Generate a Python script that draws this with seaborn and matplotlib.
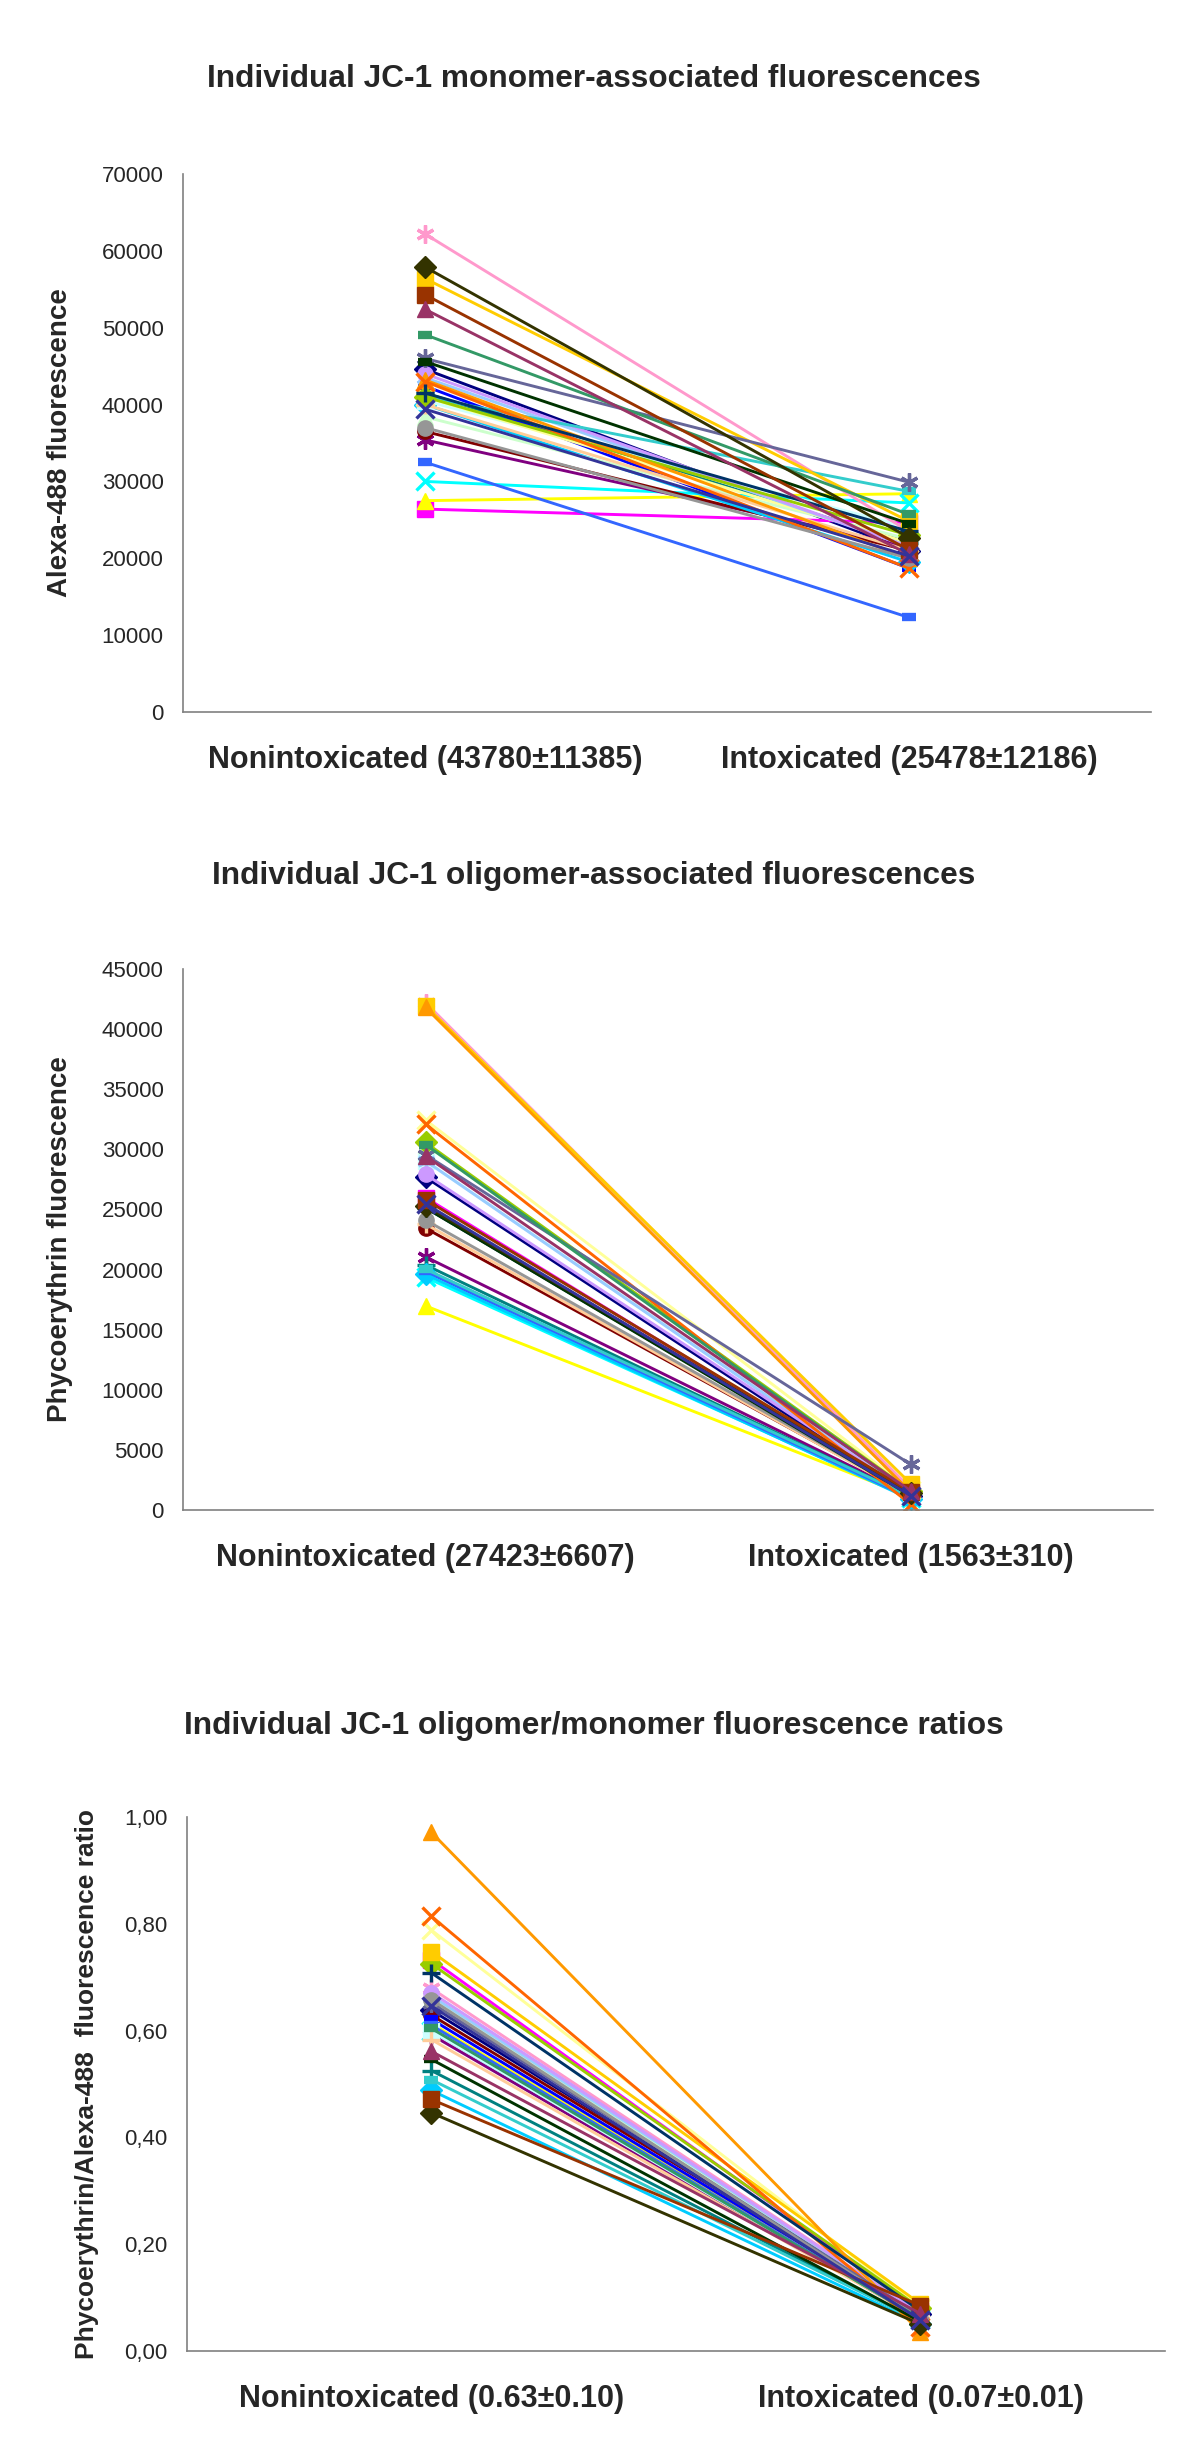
import matplotlib
matplotlib.use("Agg")
import matplotlib.pyplot as plt
import seaborn as sns

sns.set_style("white")
plt.rcParams['font.family'] = ['Liberation Sans', 'DejaVu Sans']

NARROW = ['Liberation Sans Narrow', 'Liberation Sans', 'DejaVu Sans']

## Series styles (Excel-like palette / marker cycle)
colors = ['#000080', '#FF00FF', '#FFFF00', '#00FFFF', '#800080', '#800000', '#008080', '#0000FF',
          '#00CCFF', '#CCFFFF', '#CCFFCC', '#FFFF99', '#99CCFF', '#FF99CC', '#CC99FF', '#FFCC99',
          '#3366FF', '#33CCCC', '#99CC00', '#FFCC00', '#FF9900', '#FF6600', '#666699', '#969696',
          '#003366', '#339966', '#003300', '#333300', '#993300', '#993366', '#333399']
AST = (6, 2, 0)
markers = ['D', 's', '^', 'x', AST, 'o', '+', '_',
           'D', 's', '^', 'x', AST, AST, 'o', '+',
           '_', '_', 'D', 's', '^', 'x', AST, 'o',
           '+', '_', '_', 'D', 's', '^', 'x']

## Data
groups = [0, 1]

mono_non = [44600, 26400, 27500, 30000, 35400, 36500, 41500, 42400, 40000, 40500, 38400,
            41000, 43500, 62200, 44000, 40000, 32500, 41000, 41000, 56400, 43200, 43000,
            46000, 37000, 41500, 49100, 45600, 57900, 54300, 52400, 39400]
mono_int = [21000, 24600, 28400, 27200, 21500, 21000, 22000, 18700, 19500, 24000, 22500,
            22000, 21500, 23500, 21500, 21000, 12300, 28700, 23000, 24800, 20000, 18700,
            29900, 20000, 23500, 25700, 24500, 22700, 21100, 20500, 20300]

olig_non = [27680, 25985, 16980, 19360, 21060, 23440, 20380, 19870, 19600, 29040, 30400,
            32440, 29040, 42200, 27920, 23780, 19870, 20040, 30570, 41950, 41800, 32100,
            29550, 24120, 25140, 30400, 25140, 25300, 25815, 29450, 25475]
olig_int = [1200, 1300, 1100, 1000, 1200, 1300, 1100, 1000, 900, 1400, 1500,
            1700, 1300, 1800, 1400, 1200, 1000, 1100, 1600, 2200, 1500, 500,
            3800, 1300, 1300, 1500, 1200, 1400, 1500, 1600, 1200]

ratio_non = [0.638, 0.733, 0.613, 0.600, 0.592, 0.629, 0.525, 0.621, 0.488, 0.600, 0.660,
             0.788, 0.665, 0.679, 0.671, 0.583, 0.610, 0.508, 0.725, 0.748, 0.971, 0.814,
             0.652, 0.658, 0.708, 0.604, 0.546, 0.446, 0.471, 0.561, 0.646]
ratio_int = [0.070, 0.075, 0.065, 0.060, 0.060, 0.070, 0.055, 0.065, 0.050, 0.060, 0.070,
             0.080, 0.070, 0.070, 0.070, 0.060, 0.060, 0.055, 0.080, 0.088, 0.035, 0.045,
             0.065, 0.060, 0.075, 0.060, 0.055, 0.050, 0.085, 0.070, 0.058]

titles = ['Individual JC-1 monomer-associated fluorescences',
          'Individual JC-1 oligomer-associated fluorescences',
          'Individual JC-1 oligomer/monomer fluorescence ratios']
ylabels = ['Alexa-488 fluorescence', 'Phycoerythrin fluorescence',
           'Phycoerythrin/Alexa-488  fluorescence ratio']
xlabels = [['Nonintoxicated (43780\u00b111385)', 'Intoxicated (25478\u00b112186)'],
           ['Nonintoxicated (27423\u00b16607)', 'Intoxicated (1563\u00b1310)'],
           ['Nonintoxicated (0.63\u00b10.10)', 'Intoxicated (0.07\u00b10.01)']]
yticks = [[0, 10000, 20000, 30000, 40000, 50000, 60000, 70000],
          [0, 5000, 10000, 15000, 20000, 25000, 30000, 35000, 40000, 45000],
          [0, 0.2, 0.4, 0.6, 0.8, 1.0]]
yticklabels = [[str(v) for v in yticks[0]],
               [str(v) for v in yticks[1]],
               ['0,00', '0,20', '0,40', '0,60', '0,80', '1,00']]

panels = [(mono_non, mono_int), (olig_non, olig_int), (ratio_non, ratio_int)]

## Layout (pixels in a 1200x2456 canvas)
W, H = 1200, 2456
boxes = [(183, 174, 1151, 712), (183, 969, 1153, 1510), (187, 1817, 1165, 2351)]
title_y = [79, 876, 1726]
ylabel_x = [73, 73, 99]   # right edge of the rotated y label
ylabel_size = [20, 20, 19]

fig = plt.figure(figsize=(12, 24.56), dpi=100)

for k in range(3):
    l, t, r, b = boxes[k]
    ax = fig.add_axes([l / W, 1 - b / H, (r - l) / W, (b - t) / H])
    non, intox = panels[k]
    for i in range(len(non)):
        m = markers[i]
        line_art = m in ('x', '+', '_') or m == AST
        sns.lineplot(x=groups, y=[non[i], intox[i]], ax=ax, color=colors[i],
                     linewidth=2.1, marker=m,
                     markersize=(10 if m == '_' else 13) if line_art else 11,
                     markeredgecolor=colors[i], markerfacecolor=colors[i],
                     markeredgewidth=(6 if m == '_' else 2.4) if line_art else 1)
    ax.set_xlim(-0.5, 1.5)
    ax.set_ylim(yticks[k][0], yticks[k][-1])
    ax.set_yticks(yticks[k])
    ax.set_yticklabels(yticklabels[k], fontsize=16)
    ax.set_xticks(groups)
    ax.set_xticklabels(xlabels[k], family=NARROW, fontweight='bold', fontsize=22)
    ax.set_xticks([-0.5, 0.5, 1.5], minor=True)
    ax.tick_params(axis='x', which='major', length=0, pad=24)
    ax.tick_params(axis='x', which='minor', length=6, width=1, color='#808080', direction='out')
    ax.tick_params(axis='y', length=6, width=1, color='#808080', direction='out', pad=8)
    ax.set_ylabel(ylabels[k], family=NARROW, fontweight='bold', fontsize=ylabel_size[k])
    ax.yaxis.set_label_coords((ylabel_x[k] - l) / (r - l), 0.5)
    ax.set_xlabel('')
    for s in ['top', 'right']:
        ax.spines[s].set_visible(False)
    for s in ['left', 'bottom']:
        ax.spines[s].set_color('#808080')
        ax.spines[s].set_linewidth(1.2)
    ax.grid(False)
    fig.text(0.495, 1 - title_y[k] / H, titles[k], ha='center', va='center',
             fontsize=22.8, fontweight='bold')

fig.savefig('out.png', dpi=100, facecolor='white')
